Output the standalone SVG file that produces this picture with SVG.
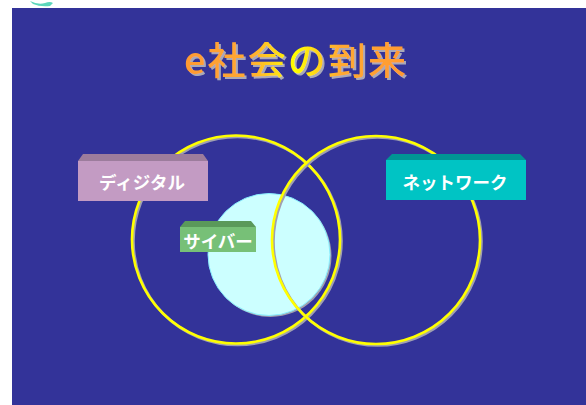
<svg xmlns="http://www.w3.org/2000/svg" width="586" height="405" viewBox="0 0 586 405">
<defs>
<style>
.ring{fill:none;stroke:#FFFF00;stroke-width:2.6}
.ringsh{fill:none;stroke:#A0A0B0;stroke-width:2.6}
.lbl{font-family:"Noto Sans CJK JP","Noto Sans",sans-serif;font-weight:bold;font-size:17.5px;fill:#FFFFFF;text-anchor:middle}
</style>
<linearGradient id="tg" x1="0" y1="0" x2="1" y2="0">
<stop offset="0" stop-color="#FF9933"/>
<stop offset="0.3" stop-color="#FFAA33"/>
<stop offset="0.5" stop-color="#FFFF00"/>
<stop offset="0.7" stop-color="#FFAA33"/>
<stop offset="1" stop-color="#FF9933"/>
</linearGradient>
<filter id="tsh" x="-5%" y="-10%" width="115%" height="130%">
<feOffset in="SourceAlpha" dx="2" dy="2" result="o"/>
<feFlood flood-color="#A8A8B8"/>
<feComposite in2="o" operator="in" result="s"/>
<feMerge><feMergeNode in="s"/><feMergeNode in="SourceGraphic"/></feMerge>
</filter>
</defs>
<rect width="586" height="405" fill="#FFFFFF"/>
<path d="M30 1 Q38 5 45 3 Q50 1 53 3 L50 6 Q40 7 33 4 Z" fill="#33CCAA" opacity="0.8"/>
<rect x="12" y="8" width="574" height="397" fill="#333399"/>
<g id="title">
<text x="295" y="74" font-family="'Noto Sans CJK JP',sans-serif" font-weight="500" font-size="38" fill="url(#tg)" text-anchor="middle" textLength="222" filter="url(#tsh)">e社会の到来</text>
</g>
<g id="cyber-circle">
<circle cx="270.5" cy="256" r="61" fill="#A0A0B0"/>
<circle cx="269" cy="254.5" r="61" fill="#CCFFFF" stroke="#88EEFF" stroke-width="1"/>
</g>
<g id="digital-circle">
<circle class="ringsh" cx="237.5" cy="241" r="104"/>
<circle class="ring" cx="236" cy="239.5" r="104"/>
</g>
<g id="network-circle">
<circle class="ringsh" cx="377.5" cy="241.5" r="104"/>
<circle class="ring" cx="376" cy="240" r="104"/>
</g>
<g id="digital">
<polygon points="78,161 83,154 203,154 208,161" fill="#9C7C9C"/>
<rect x="78" y="161" width="130" height="40" fill="#C39BC3"/>
<text class="lbl" x="142" y="189">ディジタル</text>
</g>
<g id="network">
<polygon points="386,160 392,154 520,154 526,160" fill="#009494"/>
<rect x="386" y="160" width="140" height="40" fill="#00C4C4"/>
<text class="lbl" x="455" y="189">ネットワーク</text>
</g>
<g id="cyber">
<polygon points="180,227 185,221 251,221 256,227" fill="#5A995A"/>
<rect x="180" y="227" width="76" height="25" fill="#77C077"/>
<text class="lbl" x="218" y="248">サイバー</text>
</g>
<g id="connectors"></g>
</svg>
